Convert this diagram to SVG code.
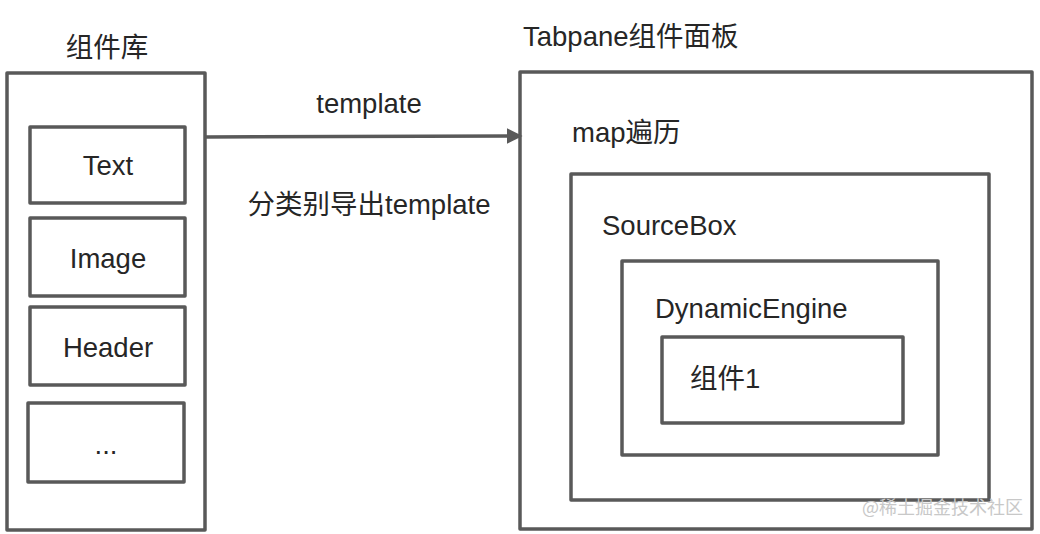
<svg xmlns="http://www.w3.org/2000/svg" width="1040" height="534" viewBox="0 0 1040 534">
<defs>
<style>
.box{fill:none;stroke:#595959;stroke-width:3.5;stroke-linejoin:round}
.t{font-family:"Liberation Sans","Noto Sans CJK SC",sans-serif;font-size:27.5px;fill:#262626}
.c{text-anchor:middle}
.wm{font-family:"Noto Sans CJK SC",sans-serif;font-size:18px;fill:#c8c8c8}
</style>
<marker id="ah" viewBox="0 0 10 10" refX="9" refY="5" markerWidth="4.5" markerHeight="4.5" orient="auto" markerUnits="strokeWidth">
<path d="M0,0 L10,5 L0,10 z" fill="#595959"/>
</marker>
</defs>
<rect width="1040" height="534" fill="#fff"/>
<g id="library">
<text class="t c" x="107" y="57">组件库</text>
<rect class="box" x="7" y="73" width="198" height="457"/>
</g>
<g id="node-text"><rect class="box" x="30" y="127" width="155" height="76"/><text class="t c" x="108" y="175">Text</text></g>
<g id="node-image"><rect class="box" x="30" y="218" width="155" height="78"/><text class="t c" x="108" y="268">Image</text></g>
<g id="node-header"><rect class="box" x="30" y="307" width="155" height="78"/><text class="t c" x="108" y="357">Header</text></g>
<g id="node-more"><rect class="box" x="28" y="403" width="156" height="79"/><text class="t c" x="106" y="454">...</text></g>
<g id="connectors">
<line x1="205" y1="137" x2="521" y2="136" stroke="#595959" stroke-width="3.5" marker-end="url(#ah)"/>
<text class="t c" x="369" y="113">template</text>
<text class="t c" x="369" y="214">分类别导出template</text>
</g>
<g id="tabpane">
<text class="t" x="523" y="46">Tabpane组件面板</text>
<rect class="box" x="520" y="72" width="512" height="457"/>
<text class="t" x="572" y="142">map遍历</text>
</g>
<g id="sourcebox">
<rect class="box" x="571" y="174" width="418" height="326"/>
<text class="t" x="602" y="235">SourceBox</text>
</g>
<g id="dynamicengine">
<rect class="box" x="622" y="261" width="316" height="194"/>
<text class="t" x="655" y="318">DynamicEngine</text>
</g>
<g id="component1">
<rect class="box" x="662" y="337" width="241" height="86"/>
<text class="t" x="690" y="388">组件1</text>
</g>
<text class="wm" x="862" y="514">@稀土掘金技术社区</text>
</svg>
